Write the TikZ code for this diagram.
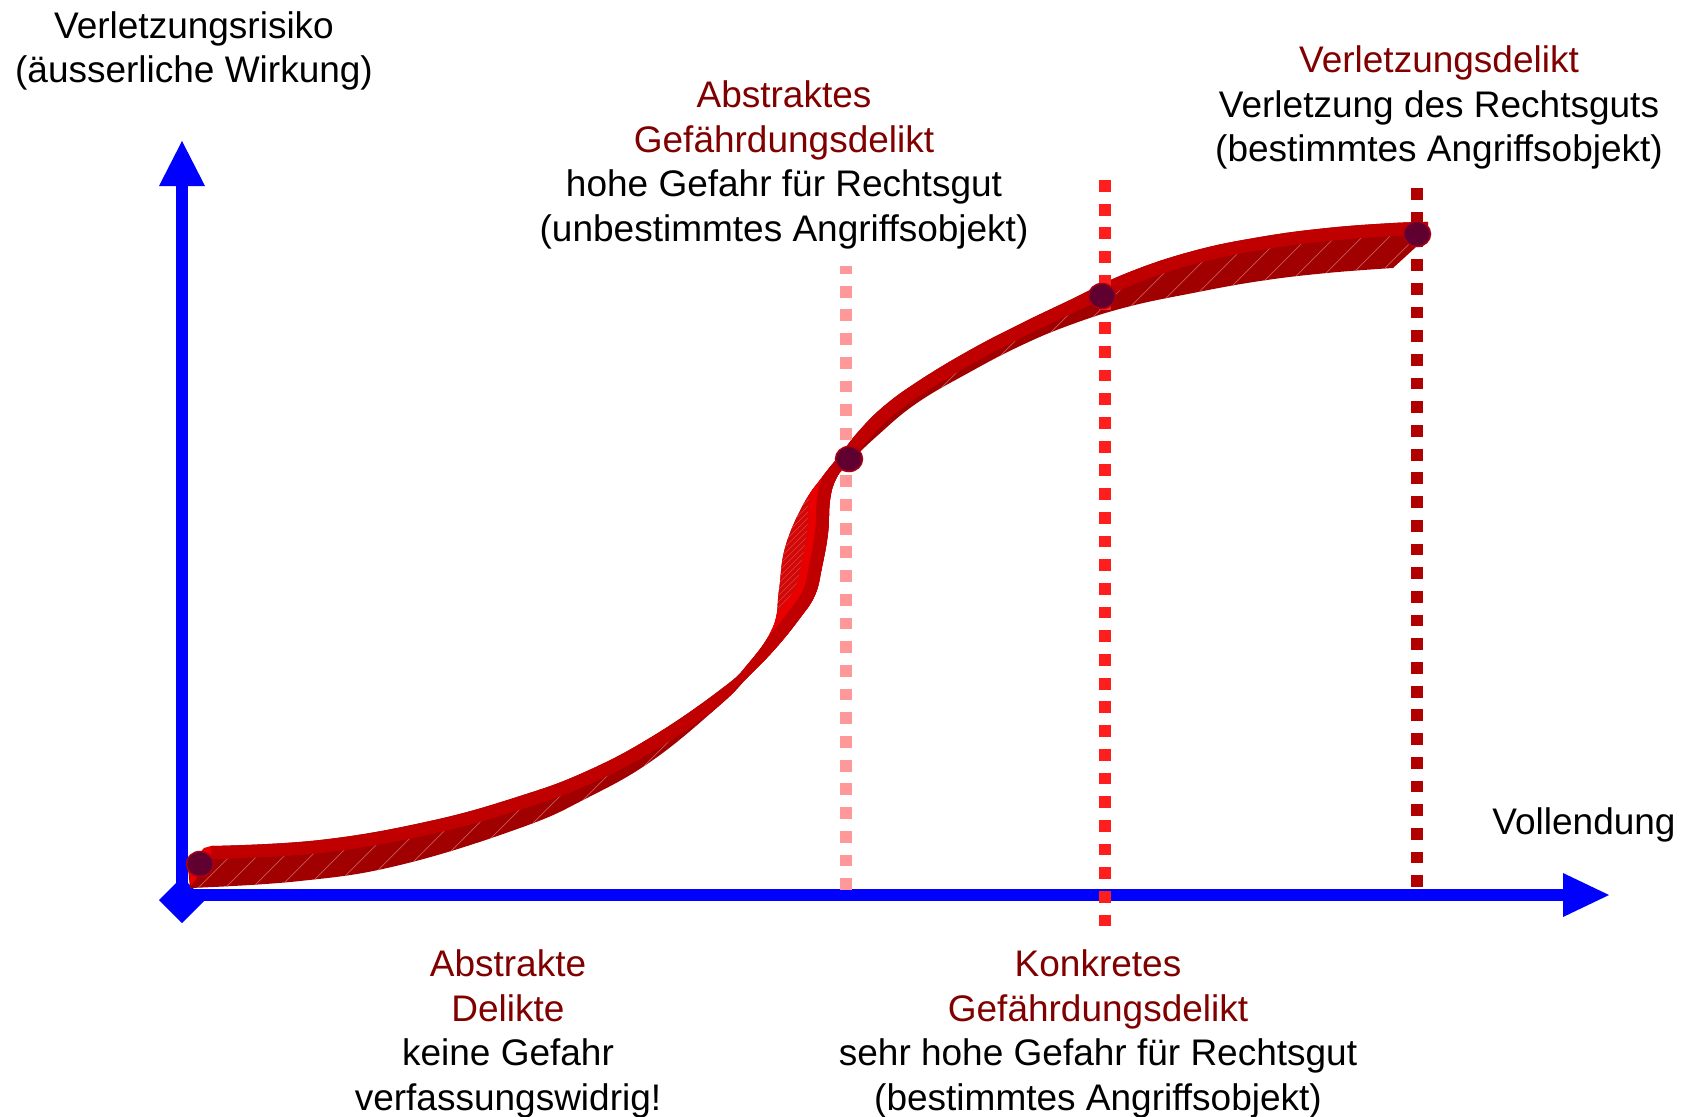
\documentclass[tikz,border=0pt]{standalone}
\usepackage{fontspec}
\setmainfont{Liberation Sans}
\usetikzlibrary{shapes.geometric}
\definecolor{axisblue}{RGB}{0,0,255}
\definecolor{txtred}{RGB}{128,0,0}
\definecolor{facered}{RGB}{192,0,0}
\definecolor{sidered}{RGB}{160,0,0}
\definecolor{sideredB}{RGB}{208,8,8}
\definecolor{brightred}{RGB}{232,0,0}
\definecolor{hatchcol}{RGB}{200,90,90}
\definecolor{hatchcolB}{RGB}{230,60,60}
\definecolor{pinkdash}{RGB}{255,153,153}
\definecolor{reddash}{RGB}{255,30,30}
\definecolor{darkdash}{RGB}{176,0,0}
\definecolor{dotfill}{RGB}{96,0,48}
\definecolor{dotedge}{RGB}{170,0,20}
\begin{document}
\begin{tikzpicture}[x=1pt,y=-1pt,
  lbl/.style={font=\fontsize{37}{44.6}\selectfont, align=center, inner sep=0pt, anchor=north},
  dashline/.style={line width=12pt, dash pattern=on 11.8pt off 11.9pt},
  dotn/.style={ellipse, minimum width=27pt, minimum height=25pt, inner sep=0pt, fill=dotfill, draw=dotedge, line width=1.5pt},
  axisline/.style={axisblue, line width=12pt},
  hatchline/.style={hatchcol, line width=0.7pt},
  upper/.style={insert path={plot[smooth,tension=0.7] coordinates {(211,846) (320,840) (430,821) (520,796) (587,771) (653,736) (720,690) (748,664) (773,627) (779,590) (785,548) (803,505) (823,476) (840,455) (858,432) (884,406) (920,380) (970,350) (1020,324) (1070,300) (1127,273) (1193,251) (1260,237) (1327,228) (1393,223) (1428,222)}}},
  lower/.style={insert path={plot[smooth,tension=0.7] coordinates {(190,888) (300,881) (400,865) (520,828) (587,798) (653,760) (720,705) (747,678) (775,649) (800,618) (815,595) (822,567) (828,533) (830,500) (836,479) (847,465) (877,436) (917,403) (970,372) (1020,346) (1070,325) (1127,307) (1193,293) (1260,281) (1327,273) (1393,268)}}},
  band/.style={upper, insert path={-- (1428,236) -- plot[smooth,tension=0.7] coordinates {(1393,268) (1327,273) (1260,281) (1193,293) (1127,307) (1070,325) (1020,346) (970,372) (917,403) (877,436) (847,465) (836,479) (830,500) (828,533) (822,567) (815,595) (800,618) (775,649) (747,678) (720,705) (653,760) (587,798) (520,828) (400,865) (300,881) (190,888)} -- (188,868) -- cycle}},
  regionA/.style={insert path={(637,566) -- (853,776) -- (853,1116) -- (0,1116) -- (0,566) -- cycle}},
  regionB/.style={insert path={(637,566) -- (853,776) -- (926,526) -- (759,397) -- cycle}},
  regionC/.style={insert path={(759,397) -- (926,526) -- (1688,526) -- (1688,0) -- (759,0) -- cycle}}
]
\useasboundingbox (0,0) rectangle (1688,1116);

% axes
\coordinate (O) at (182,895);
\coordinate (ybot) at (182,902);
\coordinate (ybase) at (182,186);
\coordinate (ytip) at (182,141);
\coordinate (xbase) at (1563,895);
\coordinate (xtip) at (1609,895);
\draw[axisline] (ybot) -- (ybase);
\draw[axisline] (O) -- (xbase);
\fill[axisblue] (159,186) -- (205,186) -- (ytip) -- cycle;
\fill[axisblue] (1563,873) -- (1563,917) -- (xtip) -- cycle;
\fill[axisblue] (159,900) -- (182,877) -- (205,900) -- (182,923) -- cycle;

% ribbon: side faces with hatching, then the top face strip
\begin{scope}
  \clip [band];
  \fill[sidered] (0,0) rectangle (1688,1116);
  \foreach \k in {-300,-273,...,800} {\draw[hatchline] (\k,1116) -- ++(1000,-1000);}
  \begin{scope}
    \clip [regionA];
    \draw[facered, line width=26pt] [upper];
  \end{scope}
  \begin{scope}
    \clip [regionB];
    \fill[sideredB] (0,0) rectangle (1688,1116);
    \foreach \k in {-300,-294,...,800} {\draw[hatchcolB, line width=0.6pt] (\k,1116) -- ++(1000,-1000);}
    \draw[brightred, line width=42pt] [lower];
    \draw[facered, line width=26pt] [lower];
  \end{scope}
  \begin{scope}
    \clip [regionC];
    \draw[facered, line width=26pt] [upper];
  \end{scope}
\end{scope}
\fill[brightred] (204,848) -- (211,846) -- (211,858) -- (191,886) -- (188,867) -- cycle;

% dashed markers
\coordinate (pk1) at (846,266);
\coordinate (pk2) at (846,890);
\coordinate (rd1) at (1105,180);
\coordinate (rd2) at (1105,926);
\coordinate (dd1) at (1417,188);
\coordinate (dd2) at (1417,888);
\draw[dashline, pinkdash, dash phase=4pt] (pk1) -- (pk2);
\draw[dashline, reddash] (rd1) -- (rd2);
\draw[dashline, darkdash] (dd1) -- (dd2);

% dots
\node[dotn] (p1) at (200,864) {};
\node[dotn] (p2) at (849,459) {};
\node[dotn] (p3) at (1102,296) {};
\node[dotn] (p4) at (1417,234) {};

% labels
\node[lbl] (tA) at (194,11) {Verletzungsrisiko\\(äusserliche Wirkung)};
\node[lbl] (tB) at (784,80.5) {\textcolor{txtred}{Abstraktes}\\\textcolor{txtred}{Gefährdungsdelikt}\\hohe Gefahr für Rechtsgut\\(unbestimmtes Angriffsobjekt)};
\node[lbl] (tC) at (1439,45.5) {\textcolor{txtred}{Verletzungsdelikt}\\Verletzung des Rechtsguts\\(bestimmtes Angriffsobjekt)};
\node[lbl] (tD) at (1584,807) {Vollendung};
\node[lbl] (tE) at (508,949.5) {\textcolor{txtred}{Abstrakte}\\\textcolor{txtred}{Delikte}\\keine Gefahr\\verfassungswidrig!};
\node[lbl] (tF) at (1098,949.5) {\textcolor{txtred}{Konkretes}\\\textcolor{txtred}{Gefährdungsdelikt}\\sehr hohe Gefahr für Rechtsgut\\(bestimmtes Angriffsobjekt)};
\end{tikzpicture}
\end{document}
